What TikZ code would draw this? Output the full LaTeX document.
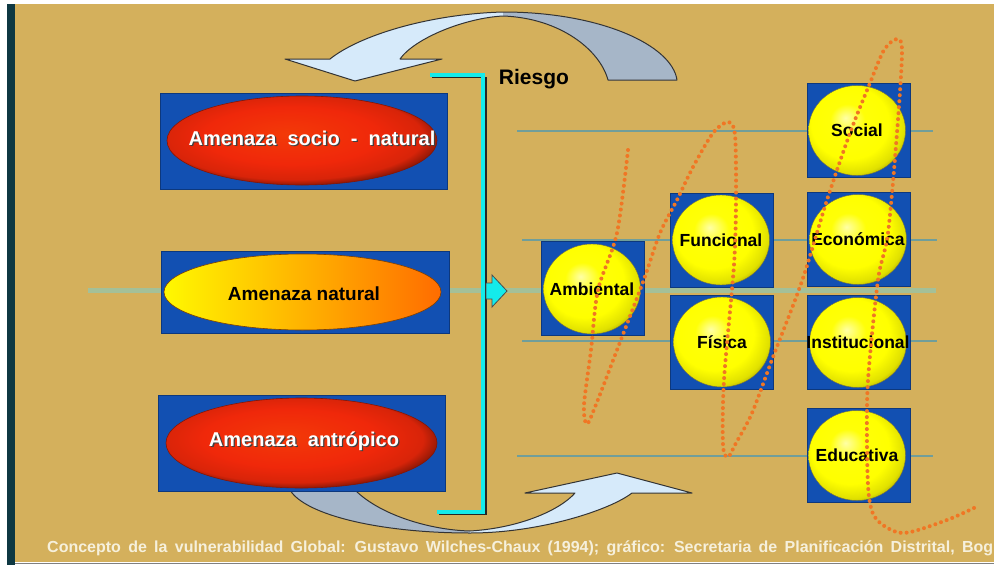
\documentclass[tikz,border=0pt]{standalone}
\usepackage{tikz}
\usepackage{xcolor}
\usepackage{fontspec}
\setmainfont{Liberation Sans}
\usetikzlibrary{shapes.geometric}
\definecolor{fondo}{RGB}{212,176,92}
\definecolor{franja}{RGB}{14,56,66}
\definecolor{azulcaja}{RGB}{18,80,178}
\definecolor{lineagris}{RGB}{112,158,154}
\definecolor{lineaclara}{RGB}{164,192,152}
\definecolor{celeste}{RGB}{214,234,250}
\definecolor{grisazul}{RGB}{166,182,200}
\definecolor{turquesa}{RGB}{20,235,235}
\definecolor{puntos}{RGB}{240,118,36}
\definecolor{rojo}{RGB}{240,40,10}
\definecolor{crema}{RGB}{246,240,220}
\pgfdeclareradialshading{bolaamarilla}{\pgfpoint{-6bp}{7bp}}{color(0bp)=(yellow!35!white); color(9bp)=(yellow!97!white); color(20bp)=(yellow); color(27bp)=(yellow!88!black); color(32bp)=(yellow!55!black); color(50bp)=(yellow!40!black)}
\pgfdeclareradialshading{huevorojo}{\pgfpoint{-3bp}{4bp}}{color(0bp)=(rojo!80!orange); color(16bp)=(rojo); color(24bp)=(rojo!90!black); color(27bp)=(rojo!60!black); color(50bp)=(rojo!50!black)}
\newcommand{\sombra}[1]{\makebox[0pt][l]{\hspace{1.3pt}\raisebox{-1.3pt}{\textcolor{black!75}{#1}}}#1}
\tikzset{%
  caja/.style={fill=azulcaja, draw=azulcaja!70!black, line width=0.4pt, inner sep=0pt},
  cajita/.style={caja, minimum width=103pt, minimum height=94pt},
  huevo/.style={ellipse, inner sep=0pt, shade, shading=huevorojo, draw=rojo!55!black, line width=0.6pt},
  bola/.style={ellipse, inner sep=0pt, minimum width=97pt, minimum height=90pt, shade, shading=bolaamarilla, draw=yellow!35!black, line width=0.4pt},
  etiqueta/.style={inner sep=0pt, font=\fontsize{17.5}{20}\selectfont\bfseries},
  blanco/.style={text=white, font=\fontsize{20}{24}\selectfont\bfseries},
  linea/.style={color=lineagris, line width=2pt},
  punteado/.style={color=puntos, line width=4pt, line cap=round, dash pattern=on 0pt off 6pt},
  cian/.style={color=turquesa, line width=3.5pt}
}

\begin{document}
\begin{tikzpicture}[x=1pt,y=-1pt]
\useasboundingbox (0,0) rectangle (994,565);
\fill[white] (0,0) rectangle (994,565);
\fill[fondo] (15,4) rectangle (994,562);
\fill[franja] (7,4) rectangle (15,565);
\draw[gray, line width=1pt] (15,563)--(994,563);
\draw[linea] (517,131)--(933,131);
\draw[linea] (522,240)--(937,240);
\draw[lineaclara, line width=5pt] (88,290)--(936,290);
\draw[linea] (522,341)--(937,341);
\draw[linea] (517,456)--(933,456);
   \def\arribapath{(355,81)--(285,59)--(330,59) .. controls (360,35) and (430,14) .. (503,12) .. controls (600,12) and (672,45) .. (677,80)--(608,80) .. controls (600,50) and (560,18) .. (503,16) .. controls (465,18) and (415,38) .. (400,59)--(442,59)--cycle}
   \fill[celeste] \arribapath;
   \begin{scope}
     \clip (503,0) rectangle (700,90);
     \fill[grisazul] \arribapath;
   \end{scope}
   \draw[black!80, line width=1pt, line join=round] \arribapath;
   \def\abajopath{(617,473)--(692,493)--(632,493) .. controls (610,510) and (540,533) .. (470,533) .. controls (380,533) and (305,515) .. (290,490)--(355,490) .. controls (380,515) and (430,530) .. (470,531) .. controls (520,528) and (560,510) .. (575,493)--(525,493)--cycle}
   \fill[celeste] \abajopath;
   \begin{scope}
     \clip (250,480) rectangle (470,540);
     \fill[grisazul] \abajopath;
   \end{scope}
   \draw[black!80, line width=1pt, line join=round] \abajopath;
\node[caja, minimum width=287pt, minimum height=96pt] (cajaSocio) at (303.5,141) {};
\node[huevo, minimum width=270pt, minimum height=89pt] (socio) at (302,140.5) {};
\node[blanco] (socioTxt) at (312,139) {\sombra{Amenaza\ \ socio\ \ -\ \ natural}};
\node[caja, minimum width=288pt, minimum height=82pt] (cajaNatural) at (305,292) {};
\node[ellipse, inner sep=0pt, minimum width=277pt, minimum height=76pt, left color=yellow!95!orange, right color=orange!85!red, draw=orange!50!black, line width=0.6pt] (natural) at (302.5,292) {};
\node[font=\fontsize{19}{23}\selectfont\bfseries] (naturalTxt) at (304,294) {Amenaza natural};
\node[caja, minimum width=287pt, minimum height=96pt] (cajaAntropico) at (301.5,443) {};
\node[huevo, minimum width=271pt, minimum height=90pt] (antropico) at (301.5,443) {};
\node[blanco] (antropicoTxt) at (304,442) {\sombra{Amenaza\ \ antrópico}};
\draw[black!85, line width=1.3pt] (432,77.5)--(486,77.5)--(486,514.5)--(439,514.5);
\draw[cian] (430,75)--(483,75)--(483,512)--(437,512);
\draw[fill=turquesa, draw=black!70, line width=0.8pt] (486,283)--(492,283)--(492,275)--(507,291)--(492,307)--(492,299)--(486,299)--cycle;
\node[font=\fontsize{21}{25}\selectfont\bfseries] (riesgo) at (534,79) {Riesgo};
\node[cajita] (cajaAmb) at (592.5,288.5) {};
\node[bola, label={[etiqueta]center:Ambiental}] (amb) at (592,289) {};
\node[cajita] (cajaFun) at (722,240) {};
\node[bola, label={[etiqueta]center:Funcional}] (fun) at (721,240) {};
\node[cajita] (cajaFis) at (722,342.5) {};
\node[bola, label={[etiqueta]center:Física}] (fis) at (722,342) {};
\node[cajita] (cajaSoc) at (858.5,130.5) {};
\node[bola, label={[etiqueta]center:Social}] (soc) at (857,130.5) {};
\node[cajita] (cajaEco) at (858.5,239.5) {};
\node[bola, label={[etiqueta]center:Económica}] (eco) at (858,239.5) {};
\node[cajita] (cajaIns) at (858.5,342.5) {};
\node[bola, label={[etiqueta]center:Institucional}] (ins) at (858,342.5) {};
\node[cajita] (cajaEdu) at (858.5,455.5) {};
\node[bola, label={[etiqueta]center:Educativa}] (edu) at (857,455.5) {};
\draw[punteado] plot[smooth, tension=0.5] coordinates {(628,150) (617,233) (598,290) (591,350) (584,405) (587,424) (597,402) (617,350) (643,282) (660,233) (677,200) (693,167) (713,133) (728,122) (735,135) (736,200) (734,265) (724,380) (723,445) (728,457) (736,443) (752,413) (773,357) (802,281) (827,200) (850,133) (870,83) (884,50) (897,39) (902,52) (897,133) (888,233) (878,280) (868,380) (867,447) (869,497) (877,520) (903,533) (947,520) (978,506)};
\node[anchor=base west, inner sep=0pt, text=crema, font=\fontsize{16}{19}\selectfont\bfseries] (pie) at (47,552) {\spaceskip=7.3pt\relax Concepto de la vulnerabilidad Global: Gustavo Wilches-Chaux (1994); gráfico: Secretaria de Planificación Distrital, Bog};
\end{tikzpicture}
\end{document}
